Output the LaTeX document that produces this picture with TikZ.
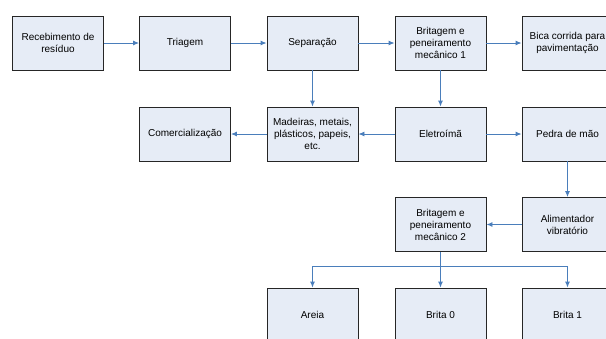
\documentclass[tikz,border=0pt]{standalone}
\usepackage{fontspec}
\setmainfont{Liberation Sans}
\usetikzlibrary{arrows.meta}
\definecolor{caixafundo}{HTML}{E6ECF6}
\definecolor{setaazul}{HTML}{4A7EBB}
\begin{document}
\begin{tikzpicture}[x=1pt,y=-1pt]
    \tikzset{caixa/.style={draw=black!85,fill=caixafundo,line width=0.9pt,
                           minimum width=91pt,minimum height=54pt,inner sep=1pt,
                           align=center,font=\fontsize{10}{12}\selectfont},
             seta/.style={draw=setaazul,line width=0.9pt,-{Latex[length=6pt,width=5pt]}}}
    \clip (0,0) rectangle (606,338);
    % linha 1
    \draw node[caixa](rec)at(58,43){Recebimento de\\resíduo}
          node[caixa](tri)at(185,43){Triagem}
          node[caixa](sep)at(312.5,43){Separação}
          node[caixa](bm1)at(440.5,43){Britagem e\\peneiramento\\mecânico 1}
          node[caixa](bic)at(567.5,43){Bica corrida para\\pavimentação};
    % linha 2
    \draw node[caixa](com)at(185,134){Comercialização}
          node[caixa](mad)at(312.5,134){Madeiras, metais,\\plásticos, papeis,\\etc.}
          node[caixa](ele)at(440.5,134){Eletroímã}
          node[caixa](ped)at(567.5,134){Pedra de mão};
    % linha 3
    \draw node[caixa](bm2)at(440.5,224.5){Britagem e\\peneiramento\\mecânico 2}
          node[caixa](ali)at(567.5,224.5){Alimentador\\vibratório};
    % linha 4
    \draw node[caixa](are)at(312.5,315){Areia}
          node[caixa](br0)at(440.5,315){Brita 0}
          node[caixa](br1)at(567.5,315){Brita 1};
    \draw[seta](rec)--(tri);
    \draw[seta](tri)--(sep);
    \draw[seta](sep)--(bm1);
    \draw[seta](bm1)--(bic);
    \draw[seta](sep)--(mad);
    \draw[seta](bm1)--(ele);
    \draw[seta](ele)--(mad);
    \draw[seta](mad)--(com);
    \draw[seta](ele)--(ped);
    \draw[seta](ped)--(ali);
    \draw[seta](ali)--(bm2);
    \coordinate(ramo)at(440.5,266);
    \draw[seta](bm2)--(br0);
    \draw[seta](ramo)-|(are);
    \draw[seta](ramo)-|(br1);
  \end{tikzpicture}
\end{document}
